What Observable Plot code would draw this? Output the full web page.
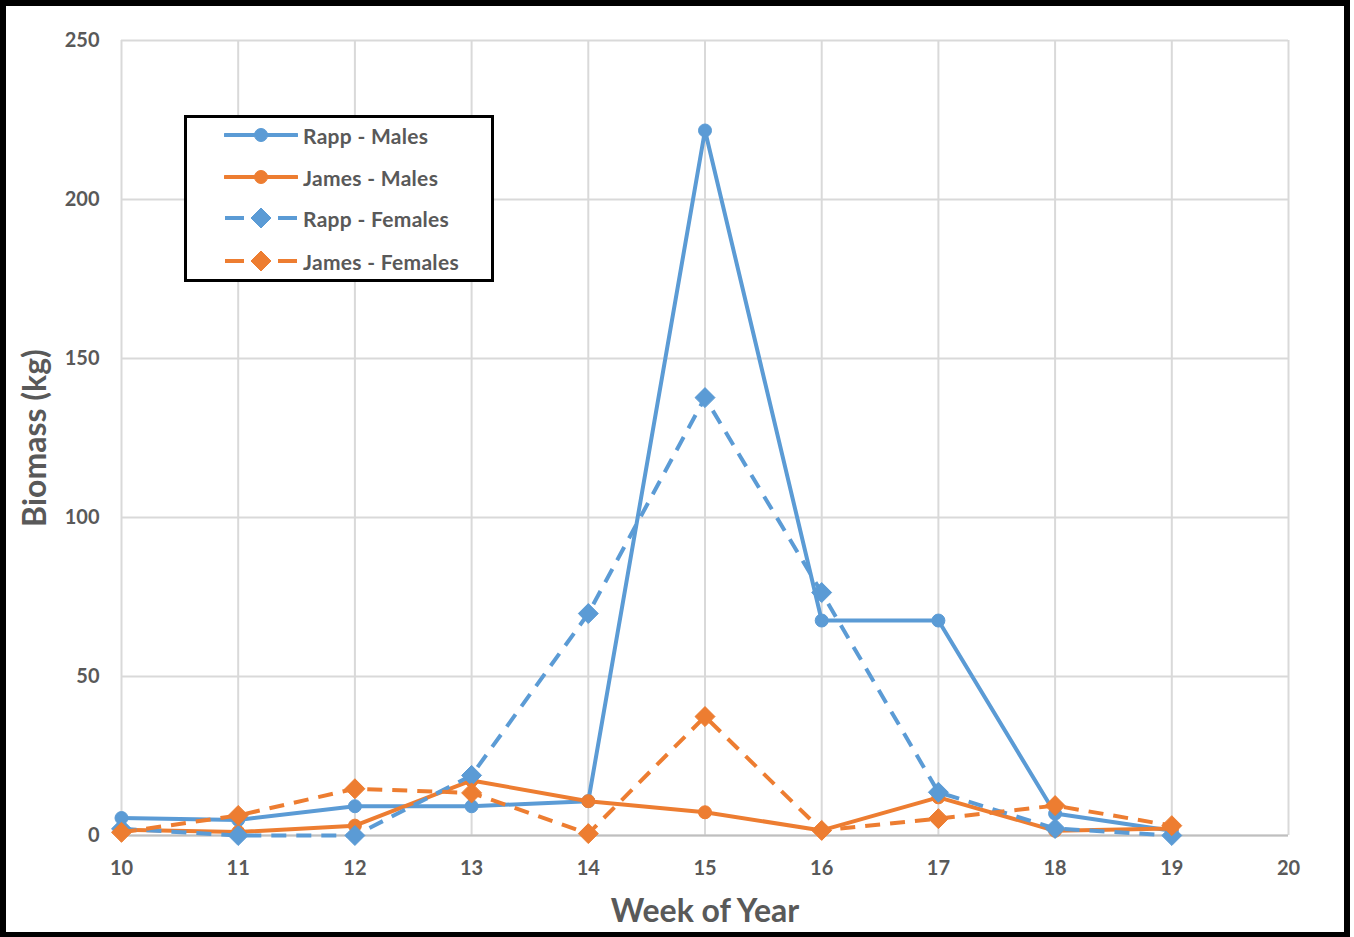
<!DOCTYPE html>
<html>
<head>
<meta charset="utf-8">
<script src="https://cdn.jsdelivr.net/npm/d3@7"></script>
<script src="https://cdn.jsdelivr.net/npm/@observablehq/plot@0.6"></script>
<style>
  html, body { margin: 0; padding: 0; background: #fff; }
  #wrap { position: relative; width: 1354px; height: 937px; overflow: hidden; }
  #border { position: absolute; left: 0; top: 0; width: 1338px; height: 926px; border: 6px solid #000; border-bottom-width: 5px; pointer-events: none; }
  #legend { position: absolute; left: 184px; top: 115px; width: 304px; height: 161px; border: 3px solid #000; background: #fff; font-family: Lato, "Open Sans", sans-serif; font-weight: bold; font-size: 21px; color: #595959; }
  .row { position: absolute; left: 0; height: 24px; display: flex; align-items: center; }
  .row svg { margin-left: 37px; }
  .row span { margin-left: 5px; letter-spacing: 0.3px; }
</style>
</head>
<body>
<div id="wrap"><div id="chart"></div><div id="legend"></div><div id="border"></div></div>
<script>
// Weekly biomass (kg) by site and sex
const weeks = [10, 11, 12, 13, 14, 15, 16, 17, 18, 19];
const rappMales    = [5.5, 4.9, 9.2, 9.2, 10.8, 221.7, 67.6, 67.6, 6.9, 1.5];
const jamesMales   = [1.8, 1.1, 3.1, 17.3, 10.8, 7.3, 1.6, 12.0, 1.5, 2.2];
const rappFemales  = [2.1, 0, 0, 18.9, 69.8, 137.7, 76.4, 13.6, 2.2, 0];
const jamesFemales = [1.0, 6.3, 14.7, 13.4, 0.6, 37.4, 1.6, 5.3, 9.4, 3.1];

const seriesNames = ["Rapp - Males", "James - Males", "Rapp - Females", "James - Females"];
const xTicks = [10, 11, 12, 13, 14, 15, 16, 17, 18, 19, 20];
const yTicks = [0, 50, 100, 150, 200, 250];

const blue = "#5B9BD5";
const orange = "#ED7D31";

const series = [
  {name: seriesNames[0], values: rappMales, color: blue, dash: null, symbol: "circle"},
  {name: seriesNames[1], values: jamesMales, color: orange, dash: null, symbol: "circle"},
  {name: seriesNames[2], values: rappFemales, color: blue, dash: "15,10", symbol: "diamond2"},
  {name: seriesNames[3], values: jamesFemales, color: orange, dash: "15,10", symbol: "diamond2"}
];

const rows = series.map(s => weeks.map((w, i) => ({week: w, value: s.values[i], name: s.name})));

const marks = [
  Plot.gridY(yTicks, {stroke: "#d9d9d9", strokeOpacity: 1, strokeWidth: 2}),
  Plot.gridX(xTicks, {stroke: "#d9d9d9", strokeOpacity: 1, strokeWidth: 2}),
  Plot.ruleY([0], {stroke: "#bfbfbf", strokeWidth: 2}),
  Plot.axisX(xTicks, {tickSize: 0, tickPadding: 25, fontSize: 20, label: null, tickFormat: d => String(d)}),
  Plot.axisY(yTicks, {tickSize: 0, tickPadding: 22, fontSize: 20, label: null, tickFormat: d => String(d)}),
  Plot.text(["Biomass (kg)"], {frameAnchor: "left", textAnchor: "middle", lineAnchor: "middle", dx: -86, rotate: -90, fontSize: 32, fontWeight: "bold", fill: "#595959"}),
  Plot.text(["Week of Year"], {frameAnchor: "bottom", lineAnchor: "middle", dy: 76, fontSize: 32, fontWeight: "bold", fill: "#595959"})
];

series.forEach((s, k) => {
  marks.push(Plot.line(rows[k], {x: "week", y: "value", stroke: s.color, strokeWidth: 4, strokeDasharray: s.dash, strokeLinejoin: "round", strokeLinecap: s.dash ? "butt" : "round"}));
  marks.push(Plot.dot(rows[k], {x: "week", y: "value", fill: s.color, stroke: s.color, strokeWidth: 1, symbol: s.symbol, r: s.symbol === "circle" ? 6.5 : 9}));
});

const chart = Plot.plot({
  width: 1354,
  height: 937,
  marginLeft: 121,
  marginRight: 66,
  marginTop: 40,
  marginBottom: 102,
  x: {domain: [10, 20]},
  y: {domain: [0, 250]},
  style: {fontFamily: "Lato, 'Open Sans', sans-serif", fontWeight: "bold", color: "#595959", background: "#fff", overflow: "visible"},
  marks
});
document.getElementById("chart").appendChild(chart);

// Legend box with line + marker swatches
const legend = document.getElementById("legend");
const rowTops = [5, 47, 88, 131];
series.forEach((s, k) => {
  const row = document.createElement("div");
  row.className = "row";
  row.style.top = rowTops[k] + "px";
  const svg = d3.create("svg").attr("width", 74).attr("height", 24);
  svg.append("line").attr("x1", 1).attr("x2", 73).attr("y1", 12).attr("y2", 12)
    .attr("stroke", s.color).attr("stroke-width", 4)
    .attr("stroke-dasharray", s.dash ? "19,34" : null)
    .attr("stroke-linecap", s.dash ? "butt" : "round");
  const sym = s.symbol === "circle" ? d3.symbolCircle : d3.symbolDiamond2;
  const size = s.symbol === "circle" ? Math.PI * 6.5 * 6.5 : Math.PI * 9 * 9;
  svg.append("path").attr("d", d3.symbol(sym, size)()).attr("transform", "translate(37,12)")
    .attr("fill", s.color).attr("stroke", s.color);
  row.appendChild(svg.node());
  const label = document.createElement("span");
  label.textContent = s.name;
  row.appendChild(label);
  legend.appendChild(row);
});
</script>
</body>
</html>
